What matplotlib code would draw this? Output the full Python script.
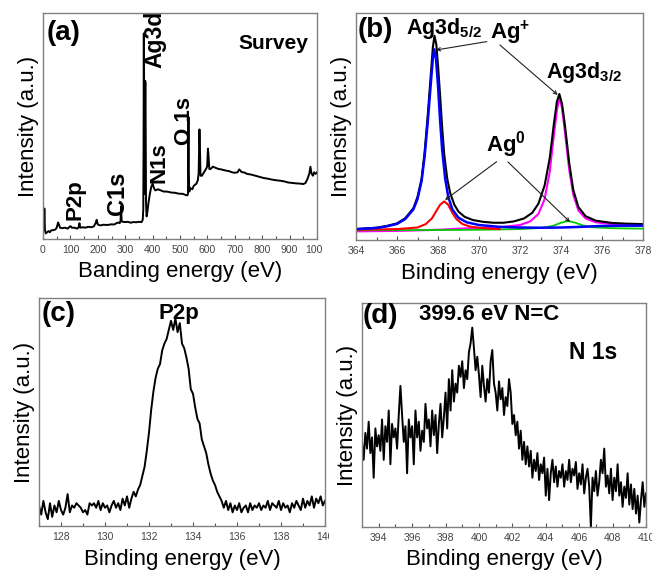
import numpy as np
import matplotlib
matplotlib.use("Agg")
import matplotlib.pyplot as plt
from matplotlib.ticker import MultipleLocator
from matplotlib.transforms import Bbox, TransformedBbox

plt.rcParams['font.family'] = ['Liberation Sans', 'DejaVu Sans']
plt.rcParams['mathtext.fontset'] = 'custom'
plt.rcParams['mathtext.rm'] = 'Liberation Sans'
plt.rcParams['mathtext.bf'] = 'Liberation Sans:bold'

# (a) survey spectrum
survey_x = [0, 3, 5, 7, 10, 15, 20, 25, 30, 40, 45, 50, 55, 58, 62, 70, 80, 90, 95, 100,
            105, 115, 125, 130, 133, 136, 145, 155, 165, 175, 185, 192, 196, 200, 210, 220,
            235, 250, 260, 268, 275, 280, 283, 285, 287, 292, 300, 310, 320, 330, 340, 350,
            360, 364, 366, 367, 368, 369, 370, 371, 372, 373, 374, 375, 376, 378, 381, 385,
            390, 395, 400, 405, 410, 420, 430, 440, 450, 460, 470, 480, 490, 500, 510, 520,
            527, 529, 530, 531, 532, 534, 538, 545, 550, 555, 560, 565, 568, 571, 573, 575,
            580, 585, 590, 595, 599, 602, 604, 607, 612, 620, 630, 640, 650, 660, 670, 680,
            690, 700, 710, 716, 720, 725, 735, 745, 760, 775, 790, 805, 820, 835, 850, 865,
            880, 895, 910, 925, 940, 950, 958, 965, 972, 976, 980, 985, 990, 995, 1000]
survey_y = [5, 5, 13.5, 4, 2.5, 3, 3.5, 3, 3.8, 4, 4.2, 5, 7.3, 6.5, 5, 4.8, 5, 4.6, 5.2, 5.7,
            5, 5, 4.6, 5.2, 7, 5, 5.2, 5, 5.4, 5.2, 5.5, 7, 8.5, 6.4, 6, 6.3,
            6.2, 6.5, 6.4, 7, 7.3, 7, 8, 14.5, 7.8, 7.6, 7.5, 7.6, 7.2, 7.5, 7.4, 7.6,
            7.5, 8.5, 13, 40, 91, 40, 20, 30, 55, 70, 69, 40, 16, 10, 12, 16,
            20, 23, 24.5, 22.5, 21.5, 22, 21.5, 21, 21, 20.8, 20.5, 20.5, 20.2, 20, 20, 19.5,
            19.3, 20, 40, 54, 30, 21, 22.5, 22, 23.5, 24, 24.5, 26, 29, 48.5, 38, 28,
            28, 29, 30, 31, 32, 40, 37, 31, 31, 32, 31.5, 31, 30.8, 30.5, 30.2, 30,
            29.5, 29.3, 29.5, 30.8, 30.3, 29.6, 29.4, 28.8, 28.5, 28, 27.5, 27, 26.7, 26.3, 26, 25.8,
            25.5, 25, 24.8, 24.6, 24.5, 24.3, 24.8, 26.5, 29, 32, 29, 28, 29.5, 28.8, 29.5]

# (b) Ag 3d fit
env_x = [364, 365, 365.5, 366, 366.4, 366.8, 367.0, 367.2, 367.35, 367.5, 367.65, 367.75,
         367.83, 367.92, 368.0, 368.1, 368.2, 368.3, 368.45, 368.6, 368.8, 369.0, 369.3,
         369.7, 370.2, 370.7, 371.2, 371.7, 372.2, 372.6, 372.9, 373.2, 373.45, 373.65,
         373.8, 373.92, 374.05, 374.2, 374.4, 374.6, 374.85, 375.2, 375.7, 376.5, 377.2, 378]
env_y = [4.8, 5.4, 6.2, 7.3, 9.6, 14, 19, 27, 39, 55, 73, 85,
         90, 86, 77, 64, 50, 38, 27, 20.5, 15.5, 12.5, 10.2,
         8.8, 8.0, 7.6, 7.6, 8.2, 9.5, 12, 16, 24, 36, 51,
         61, 64.3, 60, 50, 34, 22, 14.5, 10.5, 8.5, 7.5, 7.2, 7.0]

agp52_x = [364, 365, 365.5, 366, 366.4, 366.8, 367.0, 367.2, 367.35, 367.5, 367.65, 367.75,
           367.82, 367.9, 368.0, 368.1, 368.2, 368.35, 368.5, 368.7, 369.0, 369.4, 370,
           371, 372, 373, 374, 375, 376, 377, 378]
agp52_y = [4.8, 5.3, 6.0, 7.1, 9.2, 13.5, 18, 26, 37, 52, 69, 80,
           84, 80, 68, 53, 40, 27, 19, 13.5, 9.8, 7.8, 6.6,
           5.8, 5.5, 5.4, 5.5, 5.8, 6.2, 6.3, 6.3]

ag0_52_x = [364, 366, 367, 367.4, 367.7, 367.9, 368.1, 368.3, 368.5, 368.7, 368.9, 369.2,
            369.6, 370.5, 371]
ag0_52_y = [4.5, 4.8, 5.5, 7, 9.5, 12.5, 15.5, 17, 15.5, 12, 9.2, 7,
            5.8, 5.0, 4.8]

agp32_x = [364, 366, 368, 369, 370, 371, 372, 372.5, 372.9, 373.2, 373.45, 373.65, 373.8,
           373.92, 374.05, 374.2, 374.4, 374.6, 374.85, 375.2, 375.7, 376.5, 377.2, 378]
agp32_y = [3.8, 4.0, 4.5, 5.0, 5.3, 5.6, 6.6, 8.2, 11.5, 18, 30, 46, 57,
           63, 58, 47, 31, 20, 13, 9.5, 7.8, 7.0, 6.7, 6.5]

ag0_32_x = [364, 368, 370, 372, 373, 373.6, 374.0, 374.35, 374.7, 375.1, 375.6, 376.5, 378]
ag0_32_y = [4.3, 4.4, 4.5, 4.8, 5.3, 6.2, 7.6, 8.4, 7.6, 6.3, 5.6, 5.2, 5.0]

# (c) P 2p, 0.1 eV steps from 127 to 140 eV
p2p_y = [9, 5, 11, 6, 3, 10, 4, 9, 6, 11,
         7, 5, 8, 14, 6, 9, 8, 10, 9, 8,
         6, 7, 5, 10, 9, 10, 8, 11, 7, 10,
         8, 9, 6, 9, 11, 8, 10, 7, 12, 9,
         13, 8, 12, 15, 13, 16, 18, 22, 26, 33,
         41, 51, 59, 65, 69, 71, 77, 80, 82, 86,
         90, 86, 91, 85, 89, 80, 78, 74, 69, 60,
         58, 52, 47, 45, 38, 35, 32, 27, 23, 20,
         18, 15, 13, 11, 8, 11, 7, 10, 6, 9,
         7, 10, 6, 8, 9, 6, 10, 7, 9, 8,
         10, 7, 9, 8, 11, 7, 10, 9, 8, 11,
         7, 10, 8, 9, 6, 10, 8, 11, 9, 7,
         12, 8, 11, 9, 13, 8, 12, 10, 13, 9,
         11]
p2p_x = np.round(np.arange(len(p2p_y)) * 0.1 + 127.0, 1)

# (d) N 1s, 0.1 eV steps from 393 to 410 eV
n1s_y = [38, 30, 42, 35, 47, 33, 40, 22, 44, 36,
         41, 34, 48, 30, 45, 38, 52, 28, 46, 40,
         44, 35, 50, 63, 50, 38, 45, 24, 48, 40,
         45, 28, 52, 40, 47, 34, 43, 38, 55, 44,
         48, 36, 52, 41, 50, 33, 46, 55, 40, 49,
         60, 44, 66, 52, 70, 56, 64, 60, 72, 67,
         74, 62, 70, 66, 78, 82, 89, 80, 70, 76,
         68, 58, 72, 63, 56, 66, 60, 74, 79, 64,
         60, 52, 65, 57, 62, 50, 58, 54, 66, 60,
         46, 50, 41, 47, 35, 43, 30, 38, 28, 36,
         27, 34, 22, 30, 25, 33, 21, 28, 24, 31,
         14, 26, 12, 24, 30, 20, 27, 18, 25, 22,
         28, 18, 25, 21, 30, 20, 26, 23, 29, 17,
         24, 19, 28, 15, 22, 26, 18, 0, 22, 16,
         25, 14, 20, 30, 24, 35, 18, 23, 15, 26,
         12, 22, 16, 28, 14, 20, 9, 18, 13, 24,
         10, 19, 8, 17, 6, 14, 2, 12, 20, 9,
         15]
n1s_x = np.round(np.arange(len(n1s_y)) * 0.1 + 393.0, 1)

W, H = 652, 573
fig = plt.figure(figsize=(W / 100, H / 100), dpi=100)


def make_ax(px_left, px_top, px_right, px_bottom):
    ax = fig.add_axes([px_left / W, 1 - px_bottom / H,
                       (px_right - px_left) / W, (px_bottom - px_top) / H])
    for s in ax.spines.values():
        s.set_color('#808080')
        s.set_linewidth(1.0)
    ax.set_yticks([])
    ax.tick_params(axis='x', direction='in', length=3, width=0.8, color='#555555',
                   labelsize=7.5, labelcolor='#444444', pad=4, top=False)
    ax.tick_params(axis='x', which='minor', direction='in', length=2, width=0.8,
                   color='#555555')
    ax.set_ylabel('Intensity (a.u.)', fontsize=16, labelpad=3)
    return ax


def clip_ticklabels(ax, px_right):
    # the right-most labels are cut off by the neighbouring panel in the original
    box = TransformedBbox(Bbox([[0, 0], [px_right / W, 1]]), fig.transFigure)
    for t in ax.get_xticklabels():
        t.set_clip_box(box)
        t.set_clip_on(True)


bold = dict(fontweight='bold', color='black')

# panel (a)
ax = make_ax(43, 13, 317, 239)
ax.plot(survey_x, survey_y, color='black', lw=1.4)
ax.set_xlim(0, 1000)
ax.set_ylim(0, 100)
ax.xaxis.set_major_locator(MultipleLocator(100))
ax.xaxis.set_minor_locator(MultipleLocator(50))
ax.set_xlabel('Banding energy (eV)', fontsize=16, labelpad=5)
clip_ticklabels(ax, 322)
ax.text(0.015, 0.91, '(a)', transform=ax.transAxes, fontsize=20, va='center', **bold)
ax.text(0.967, 0.863, 'Survey', transform=ax.transAxes, fontsize=15, ha='right', va='center', **bold)
ax.text(407, 88.5, 'Ag3d', rotation=90, fontsize=16.5, ha='center', va='center', clip_on=False, **bold)
ax.text(516, 52, 'O 1s', rotation=90, fontsize=16, ha='center', va='center', **bold)
ax.text(422, 34, 'N1s', rotation=90, fontsize=16, ha='center', va='center', **bold)
ax.text(272, 20, 'C1s', rotation=90, fontsize=17, ha='center', va='center', **bold)
ax.text(118, 17.5, 'P2p', rotation=90, fontsize=16, ha='center', va='center', **bold)

# panel (b)
ax = make_ax(356, 13, 643, 240)
ax.plot(agp32_x, agp32_y, color='#ff00ff', lw=1.5)
ax.plot(ag0_32_x, ag0_32_y, color='#00cc00', lw=1.3)
ax.plot(ag0_52_x, ag0_52_y, color='#ff0000', lw=1.5)
ax.plot(env_x, env_y, color='black', lw=1.5)
ax.plot(agp52_x, agp52_y, color='#0000ff', lw=1.8)
ax.set_xlim(364, 378)
ax.set_ylim(0, 100)
ax.xaxis.set_major_locator(MultipleLocator(2))
ax.xaxis.set_minor_locator(MultipleLocator(1))
ax.set_xlabel('Binding energy (eV)', fontsize=16, labelpad=5)
ax.text(0.005, 0.925, '(b)', transform=ax.transAxes, fontsize=20, va='center', **bold)
ax.text(368.3, 93.2, r'Ag3d$_{\mathbf{5/2}}$', fontsize=15.5, ha='center', va='center', **bold)
ax.text(371.5, 91.2, r'Ag$^{\mathbf{+}}$', fontsize=16, ha='center', va='center', **bold)
ax.text(375.15, 74, r'Ag3d$_{\mathbf{3/2}}$', fontsize=15.5, ha='center', va='center', **bold)
ax.text(371.32, 42, r'Ag$^{\mathbf{0}}$', fontsize=16, ha='center', va='center', **bold)
arrow = dict(arrowstyle='->', color='#222222', lw=0.8, shrinkA=0, shrinkB=0, mutation_scale=6)
ax.annotate('', xy=(367.9, 83.7), xytext=(370.38, 87.4), arrowprops=arrow)
ax.annotate('', xy=(373.84, 63.9), xytext=(371.02, 85.9), arrowprops=arrow)
ax.annotate('', xy=(368.34, 17.6), xytext=(370.86, 34.5), arrowprops=arrow)
ax.annotate('', xy=(374.44, 7.9), xytext=(371.41, 34.4), arrowprops=arrow)

# panel (c)
ax = make_ax(39, 298, 325, 526)
ax.plot(p2p_x, p2p_y, color='black', lw=1.4)
ax.set_xlim(127, 140)
ax.set_ylim(0, 100)
ax.xaxis.set_major_locator(MultipleLocator(2))
ax.xaxis.set_minor_locator(MultipleLocator(1))
ax.set_xlabel('Binding energy (eV)', fontsize=16, labelpad=5)
clip_ticklabels(ax, 329)
ax.text(0.008, 0.93, '(c)', transform=ax.transAxes, fontsize=20, va='center', **bold)
ax.text(133.36, 93.4, 'P2p', fontsize=16, ha='center', va='center', **bold)

# panel (d)
ax = make_ax(362, 303, 646, 527)
ax.plot(n1s_x, n1s_y, color='black', lw=1.4)
ax.set_xlim(393, 410)
ax.set_ylim(0, 100)
ax.xaxis.set_major_locator(MultipleLocator(2))
ax.xaxis.set_minor_locator(MultipleLocator(1))
ax.set_xlabel('Binding energy (eV)', fontsize=16, labelpad=5)
ax.text(0.003, 0.94, '(d)', transform=ax.transAxes, fontsize=20, va='center', **bold)
ax.text(400.6, 94.9, '399.6 eV N=C', fontsize=16, ha='center', va='center', **bold)
ax.text(406.83, 77.9, 'N 1s', fontsize=16.5, ha='center', va='center', **bold)

fig.savefig('out.png', dpi=100)
